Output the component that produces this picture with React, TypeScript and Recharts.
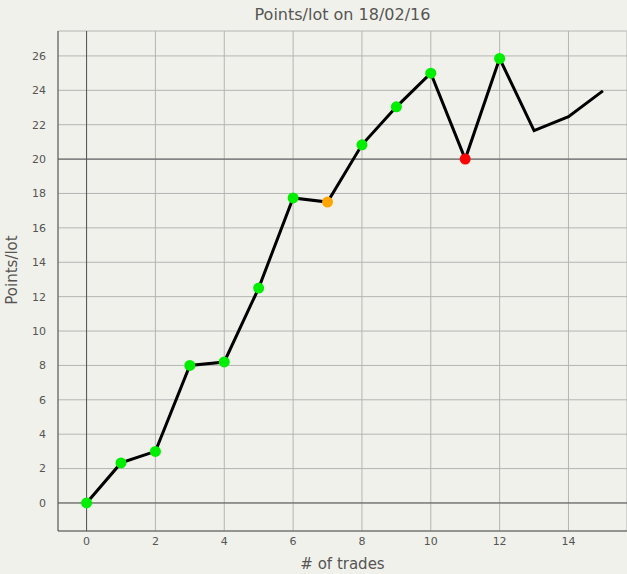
import React from "react";
import {
  LineChart,
  Line,
  XAxis,
  YAxis,
  CartesianGrid,
  ReferenceLine,
  Label
} from "recharts";

const trades = [0, 1, 2, 3, 4, 5, 6, 7, 8, 9, 10, 11, 12, 13, 14, 15];
const points = [0, 2.33, 3.0, 8.0, 8.2, 12.5, 17.74, 17.5, 20.83, 23.04, 25.0, 20.0, 25.85, 21.66, 22.47, 23.97];
// outcome marker per trade (null = no marker)
const outcome = ["win", "win", "win", "win", "win", "win", "win", "flat", "win", "win", "win", "loss", "win", null, null, null];
const xTicks = [0, 2, 4, 6, 8, 10, 12, 14];
const yTicks = [0, 2, 4, 6, 8, 10, 12, 14, 16, 18, 20, 22, 24, 26];

const markerColor: Record<string, string> = {
  win: "#00ee00",
  flat: "#ffa500",
  loss: "#ff0000"
};

const data = trades.map((t, i) => ({ trade: t, points: points[i], outcome: outcome[i] }));

const FONT = "'DejaVu Sans', Verdana, sans-serif";
const BG = "#f1f1eb";

const Dot = (props: any) => {
  const { cx, cy, payload, index } = props;
  if (!payload.outcome) return <g key={index} />;
  return <circle key={index} cx={cx} cy={cy} r={5.5} fill={markerColor[payload.outcome]} stroke="none" />;
};

const App = () => {
  return (
    <div style={{ position: "fixed", left: 0, top: 0, width: 627, height: 574, background: BG, fontFamily: FONT }}>
      <div
        style={{
          position: "absolute",
          left: 58,
          width: 569,
          top: 5,
          textAlign: "center",
          fontSize: 16,
          color: "#555",
          fontFamily: FONT
        }}
      >
        Points/lot on 18/02/16
      </div>
      <LineChart width={627} height={574} data={data} margin={{ top: 31, right: 0, bottom: 0, left: 0 }}>
        <CartesianGrid stroke="#b4b4b4" strokeWidth={1} />
        <XAxis
          dataKey="trade"
          type="number"
          domain={[-0.83, 15.7]}
          ticks={xTicks}
          allowDataOverflow
          height={43}
          tickLine={false}
          axisLine={{ stroke: "#555" }}
          tick={{ fill: "#555", fontSize: 11, fontFamily: FONT }}
          tickMargin={0}
        >
          <Label value="# of trades" position="center" dy={11} fill="#555" fontSize={15} fontFamily={FONT} />
        </XAxis>
        <YAxis
          type="number"
          domain={[-1.63, 27.45]}
          ticks={yTicks}
          allowDataOverflow
          width={58}
          tickLine={false}
          axisLine={{ stroke: "#555" }}
          tick={{ fill: "#555", fontSize: 11, fontFamily: FONT }}
          tickMargin={6}
        >
          <Label value="Points/lot" angle={-90} position="center" dx={-17} dy={-11} fill="#555" fontSize={15} fontFamily={FONT} />
        </YAxis>
        <ReferenceLine x={0} stroke="#555" strokeWidth={1} />
        <ReferenceLine y={0} stroke="#555" strokeWidth={1} />
        <ReferenceLine y={20} stroke="#555" strokeWidth={1} />
        <Line
          type="linear"
          dataKey="points"
          stroke="#000"
          strokeWidth={3}
          dot={<Dot />}
          activeDot={false}
          isAnimationActive={false}
        />
      </LineChart>
    </div>
  );
};

export default App;
